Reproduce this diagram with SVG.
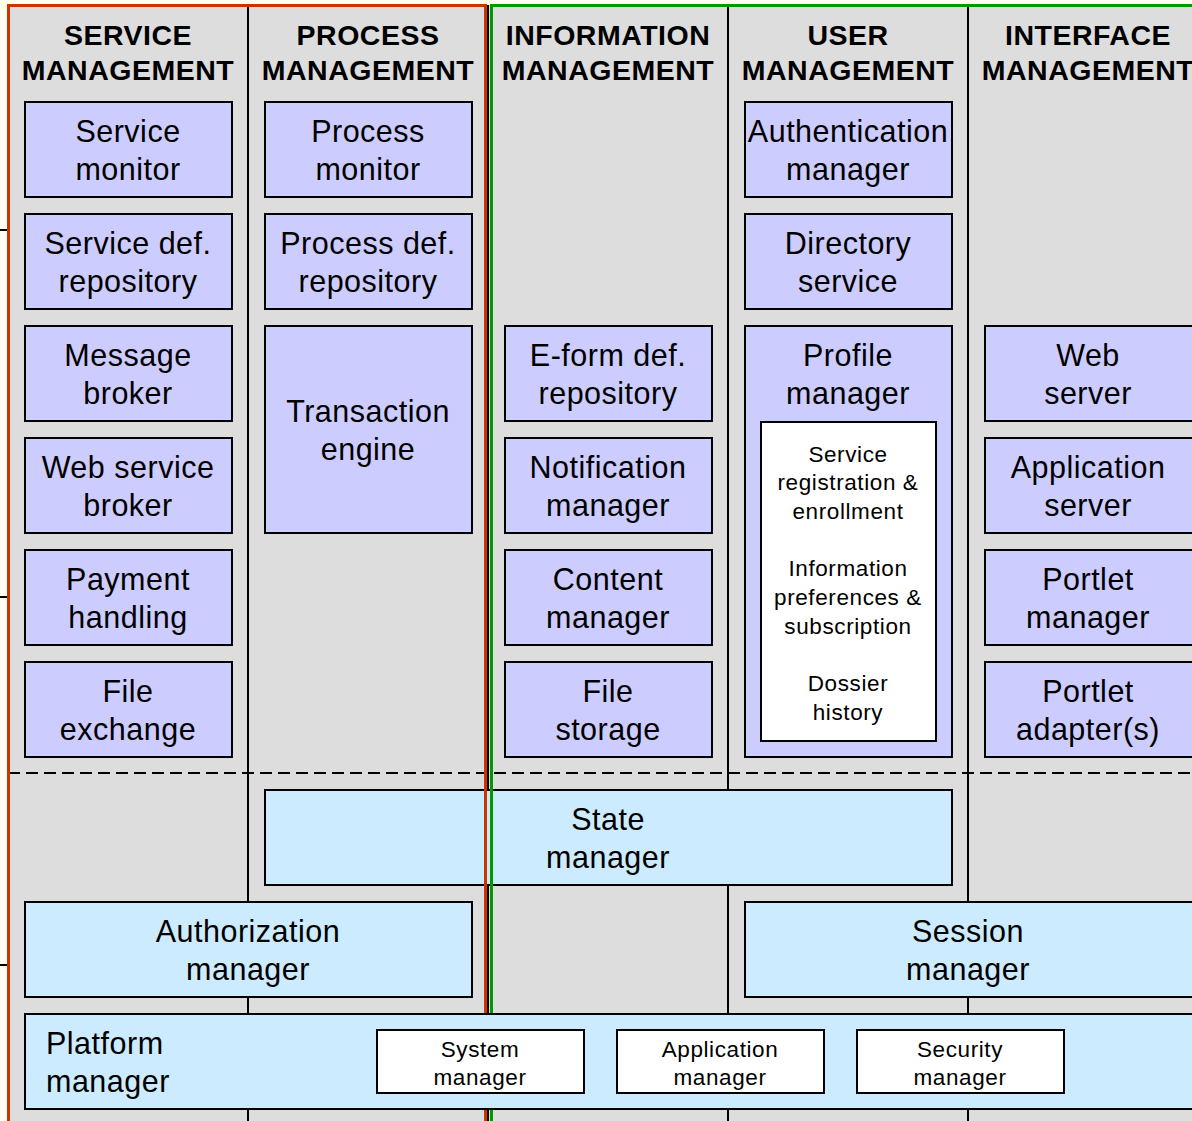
<svg xmlns="http://www.w3.org/2000/svg" width="1192" height="1121" viewBox="0 0 1192 1121">
<style>
.hd{font-family:"Liberation Sans",Arial,sans-serif;font-size:28.5px;letter-spacing:0.5px;font-weight:bold;text-anchor:middle;fill:#000}
.t{font-family:"Liberation Sans",Arial,sans-serif;font-size:30.5px;letter-spacing:0.5px;text-anchor:middle;fill:#000}
.s{font-family:"Liberation Sans",Arial,sans-serif;font-size:22.5px;letter-spacing:0.6px;text-anchor:middle;fill:#000}
.b{fill:#CCCCFF;stroke:#000;stroke-width:2}
.lb{fill:#CCEBFF;stroke:#000;stroke-width:2}
.w{fill:#FFFFFF;stroke:#000;stroke-width:2}
.div{stroke:#000;stroke-width:2}
</style>
<rect x="0" y="0" width="1192" height="1121" fill="#FFFFF2"/>
<rect x="8" y="5" width="1184" height="1116" fill="#DDDDDD"/>
<g id="ticks" class="div">
<line x1="0" y1="230" x2="8" y2="230"/>
<line x1="0" y1="597" x2="8" y2="597"/>
<line x1="0" y1="965" x2="8" y2="965"/>
</g>
<g id="dividers" class="div">
<line x1="248" y1="5" x2="248" y2="1121"/>
<line x1="488" y1="5" x2="488" y2="1121"/>
<line x1="728" y1="5" x2="728" y2="1121"/>
<line x1="968" y1="5" x2="968" y2="1121"/>
<line x1="8" y1="773" x2="1192" y2="773" stroke-dasharray="12,6"/>
</g>
<g id="headers">
<text class="hd" x="128" y="45">SERVICE</text><text class="hd" x="128" y="80">MANAGEMENT</text>
<text class="hd" x="368" y="45">PROCESS</text><text class="hd" x="368" y="80">MANAGEMENT</text>
<text class="hd" x="608" y="45">INFORMATION</text><text class="hd" x="608" y="80">MANAGEMENT</text>
<text class="hd" x="848" y="45">USER</text><text class="hd" x="848" y="80">MANAGEMENT</text>
<text class="hd" x="1088" y="45">INTERFACE</text><text class="hd" x="1088" y="80">MANAGEMENT</text>
</g>
<g id="service-monitor"><rect class="b" x="25" y="102" width="207" height="95"/><text class="t" x="128" y="142">Service</text><text class="t" x="128" y="180">monitor</text></g>
<g id="service-def-repository"><rect class="b" x="25" y="214" width="207" height="95"/><text class="t" x="128" y="254">Service def.</text><text class="t" x="128" y="292">repository</text></g>
<g id="message-broker"><rect class="b" x="25" y="326" width="207" height="95"/><text class="t" x="128" y="366">Message</text><text class="t" x="128" y="404">broker</text></g>
<g id="web-service-broker"><rect class="b" x="25" y="438" width="207" height="95"/><text class="t" x="128" y="478">Web service</text><text class="t" x="128" y="516">broker</text></g>
<g id="payment-handling"><rect class="b" x="25" y="550" width="207" height="95"/><text class="t" x="128" y="590">Payment</text><text class="t" x="128" y="628">handling</text></g>
<g id="file-exchange"><rect class="b" x="25" y="662" width="207" height="95"/><text class="t" x="128" y="702">File</text><text class="t" x="128" y="740">exchange</text></g>
<g id="process-monitor"><rect class="b" x="265" y="102" width="207" height="95"/><text class="t" x="368" y="142">Process</text><text class="t" x="368" y="180">monitor</text></g>
<g id="process-def-repository"><rect class="b" x="265" y="214" width="207" height="95"/><text class="t" x="368" y="254">Process def.</text><text class="t" x="368" y="292">repository</text></g>
<g id="transaction-engine"><rect class="b" x="265" y="326" width="207" height="207"/><text class="t" x="368" y="422">Transaction</text><text class="t" x="368" y="460">engine</text></g>
<g id="eform-def-repository"><rect class="b" x="505" y="326" width="207" height="95"/><text class="t" x="608" y="366">E-form def.</text><text class="t" x="608" y="404">repository</text></g>
<g id="notification-manager"><rect class="b" x="505" y="438" width="207" height="95"/><text class="t" x="608" y="478">Notification</text><text class="t" x="608" y="516">manager</text></g>
<g id="content-manager"><rect class="b" x="505" y="550" width="207" height="95"/><text class="t" x="608" y="590">Content</text><text class="t" x="608" y="628">manager</text></g>
<g id="file-storage"><rect class="b" x="505" y="662" width="207" height="95"/><text class="t" x="608" y="702">File</text><text class="t" x="608" y="740">storage</text></g>
<g id="authentication-manager"><rect class="b" x="745" y="102" width="207" height="95"/><text class="t" x="848" y="142">Authentication</text><text class="t" x="848" y="180">manager</text></g>
<g id="directory-service"><rect class="b" x="745" y="214" width="207" height="95"/><text class="t" x="848" y="254">Directory</text><text class="t" x="848" y="292">service</text></g>
<g id="profile-manager"><rect class="b" x="745" y="326" width="207" height="431"/><text class="t" x="848" y="366">Profile</text><text class="t" x="848" y="404">manager</text>
<rect class="w" x="761" y="422" width="175" height="319"/>
<text class="s" x="848" y="462">Service</text><text class="s" x="848" y="490">registration &amp;</text><text class="s" x="848" y="519">enrollment</text>
<text class="s" x="848" y="576">Information</text><text class="s" x="848" y="605">preferences &amp;</text><text class="s" x="848" y="634">subscription</text>
<text class="s" x="848" y="691">Dossier</text><text class="s" x="848" y="720">history</text></g>
<g id="web-server"><rect class="b" x="985" y="326" width="212" height="95"/><text class="t" x="1088" y="366">Web</text><text class="t" x="1088" y="404">server</text></g>
<g id="application-server"><rect class="b" x="985" y="438" width="212" height="95"/><text class="t" x="1088" y="478">Application</text><text class="t" x="1088" y="516">server</text></g>
<g id="portlet-manager"><rect class="b" x="985" y="550" width="212" height="95"/><text class="t" x="1088" y="590">Portlet</text><text class="t" x="1088" y="628">manager</text></g>
<g id="portlet-adapters"><rect class="b" x="985" y="662" width="212" height="95"/><text class="t" x="1088" y="702">Portlet</text><text class="t" x="1088" y="740">adapter(s)</text></g>
<g id="state-manager"><rect class="lb" x="265" y="790" width="687" height="95"/><text class="t" x="608" y="830">State</text><text class="t" x="608" y="868">manager</text></g>
<g id="authorization-manager"><rect class="lb" x="25" y="902" width="447" height="95"/><text class="t" x="248" y="942">Authorization</text><text class="t" x="248" y="980">manager</text></g>
<g id="session-manager"><rect class="lb" x="745" y="902" width="452" height="95"/><text class="t" x="968" y="942">Session</text><text class="t" x="968" y="980">manager</text></g>
<g id="borders" fill="none" stroke-width="3">
<rect x="8.5" y="5.5" width="477" height="1120" stroke="#CC3300"/>
<rect x="491.5" y="5.5" width="710" height="1120" stroke="#009900"/>
</g>
<g id="platform-manager"><rect class="lb" x="25" y="1014" width="1172" height="95"/>
<text class="t" x="46" y="1054" style="text-anchor:start">Platform</text><text class="t" x="46" y="1092" style="text-anchor:start">manager</text>
<g id="system-manager"><rect class="w" x="377" y="1030" width="207" height="63"/><text class="s" x="480" y="1057">System</text><text class="s" x="480" y="1085">manager</text></g>
<g id="application-manager"><rect class="w" x="617" y="1030" width="207" height="63"/><text class="s" x="720" y="1057">Application</text><text class="s" x="720" y="1085">manager</text></g>
<g id="security-manager"><rect class="w" x="857" y="1030" width="207" height="63"/><text class="s" x="960" y="1057">Security</text><text class="s" x="960" y="1085">manager</text></g>
</g>
</svg>
